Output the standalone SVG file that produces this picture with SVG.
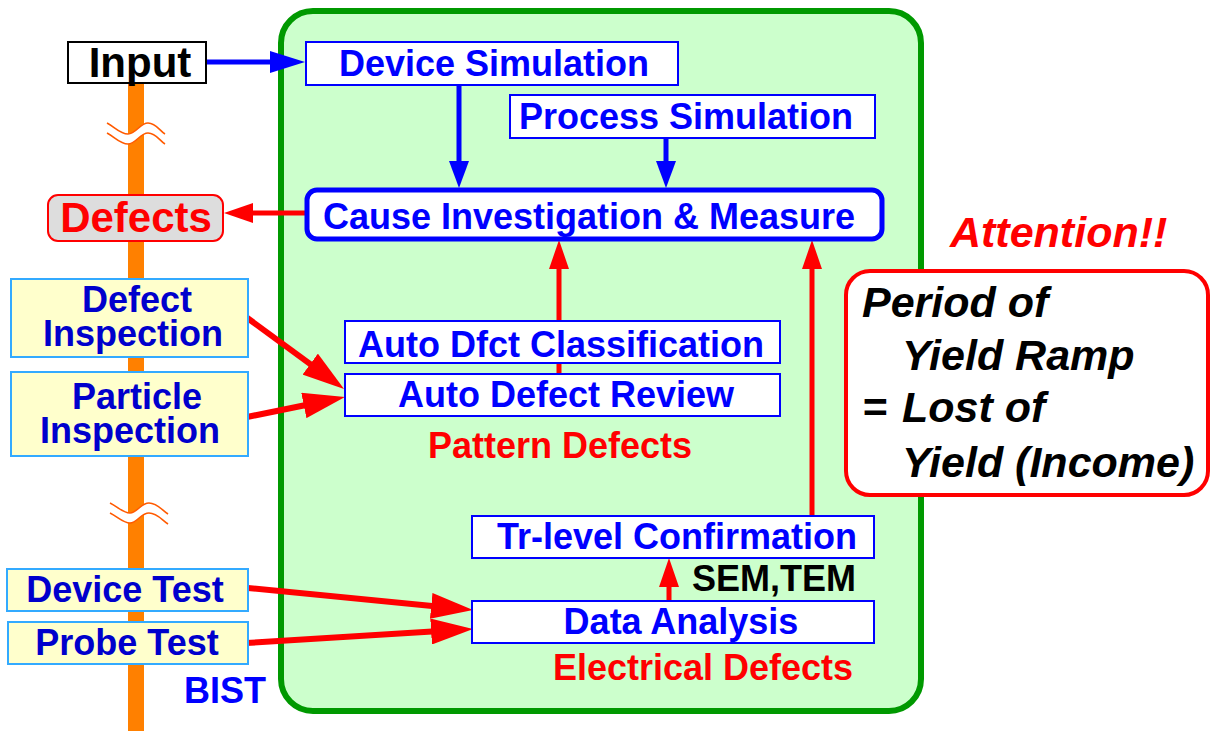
<svg xmlns="http://www.w3.org/2000/svg" width="1211" height="731" viewBox="0 0 1211 731">
  <style>
    text { font-family: "Liberation Sans", Arial, Helvetica, sans-serif; font-weight: bold; font-size: 36px; }
    .mid { text-anchor: middle; }
    .big { font-size: 42px; }
    .blue { fill: #0000ff; }
    .dblue { fill: #0000cc; }
    .red { fill: #ff0000; }
    .black { fill: #000000; }
    .box { fill: #ffffff; stroke: #0000ff; stroke-width: 2; }
    .tool { fill: #ffffcc; stroke: #33aaff; stroke-width: 2; }
    .bl { stroke: #0000ff; stroke-width: 5; fill: none; }
    .rl { stroke: #ff0000; stroke-width: 5; fill: none; }
    .rlw { stroke: #ff0000; stroke-width: 6; fill: none; }
    .brk { fill: none; stroke: #ff5a00; stroke-width: 1.6; }
    .note { font-size: 43px; font-style: italic; }
  </style>
  <defs>
    <marker id="headBlueL" markerUnits="userSpaceOnUse" markerWidth="36" markerHeight="22" refX="1" refY="11" orient="auto">
      <path d="M0,0 L35,11 L0,22 z" fill="#0000ff"/>
    </marker>
    <marker id="headBlue" markerUnits="userSpaceOnUse" markerWidth="28" markerHeight="20" refX="1" refY="10" orient="auto">
      <path d="M0,0 L27,10 L0,20 z" fill="#0000ff"/>
    </marker>
    <marker id="headRed" markerUnits="userSpaceOnUse" markerWidth="30" markerHeight="20" refX="1" refY="10" orient="auto">
      <path d="M0,0 L29,10 L0,20 z" fill="#ff0000"/>
    </marker>
    <marker id="headRedL" markerUnits="userSpaceOnUse" markerWidth="43" markerHeight="26" refX="1" refY="13" orient="auto">
      <path d="M0,0 L42,13 L0,26 z" fill="#ff0000"/>
    </marker>
  </defs>

  <!-- time axis with break marks -->
  <g id="timeline">
    <rect x="128" y="82" width="16" height="649" fill="#ff8000"/>
    <path d="M107,123 C115,127 120,134 128,134 C136,134 140,123 148,123 C156,123 160,131 165,134 L165,144 C160,141 156,133 148,133 C140,133 136,144 128,144 C120,144 115,137 107,133 z" fill="#ffffff"/>
    <path class="brk" d="M107,123 C115,127 120,134 128,134 C136,134 140,123 148,123 C156,123 160,131 165,134"/>
    <path class="brk" d="M107,133 C115,137 120,144 128,144 C136,144 140,133 148,133 C156,133 160,141 165,144"/>
    <path d="M110,503 C118,507 123,513 130,513 C137,513 141,503 149,503 C157,503 162,510 168,514 L168,524 C162,520 157,513 149,513 C141,513 137,523 130,523 C123,523 118,517 110,513 z" fill="#ffffff"/>
    <path class="brk" d="M110,503 C118,507 123,513 130,513 C137,513 141,503 149,503 C157,503 162,510 168,514"/>
    <path class="brk" d="M110,513 C118,517 123,523 130,523 C137,523 141,513 149,513 C157,513 162,520 168,524"/>
  </g>

  <!-- analysis area -->
  <g id="analysis-area">
    <rect x="281" y="11" width="640" height="700" rx="32" fill="#ccffcc" stroke="#009900" stroke-width="6"/>
  </g>

  <!-- connectors -->
  <g id="connectors">
    <line class="bl" x1="206" y1="62" x2="271" y2="62" stroke-width="6" marker-end="url(#headBlueL)"/>
    <line class="bl" x1="459" y1="85" x2="459" y2="162" marker-end="url(#headBlue)"/>
    <line class="bl" x1="666" y1="138" x2="666" y2="162" marker-end="url(#headBlue)"/>
    <line class="rl" x1="307" y1="213" x2="252" y2="213" marker-end="url(#headRed)"/>
    <line class="rl" x1="559" y1="376" x2="559" y2="268" marker-end="url(#headRed)"/>
    <line class="rl" x1="812" y1="517" x2="812" y2="268" marker-end="url(#headRed)"/>
    <line class="rl" x1="669" y1="601" x2="669" y2="586" marker-end="url(#headRed)"/>
    <line class="rlw" x1="246" y1="317" x2="311" y2="364.7" marker-end="url(#headRedL)"/>
    <line class="rlw" x1="247" y1="417" x2="304.8" y2="405.2" marker-end="url(#headRedL)"/>
    <line class="rlw" x1="248" y1="588" x2="432.2" y2="606" marker-end="url(#headRedL)"/>
    <line class="rlw" x1="246" y1="643" x2="432.1" y2="631.5" marker-end="url(#headRedL)"/>
  </g>

  <g id="input">
    <rect x="68" y="42" width="138" height="41" fill="#ffffff" stroke="#000000" stroke-width="2"/>
    <text class="mid black big" x="140" y="77">Input</text>
  </g>

  <g id="defects">
    <rect x="48" y="195" width="175" height="46" rx="10" fill="#dddddd" stroke="#ff0000" stroke-width="2"/>
    <text class="mid red big" x="136" y="232">Defects</text>
  </g>

  <g id="device-simulation">
    <rect class="box" x="306" y="42" width="372" height="43"/>
    <text class="mid blue" x="494" y="76">Device Simulation</text>
  </g>

  <g id="process-simulation">
    <rect class="box" x="510" y="95" width="365" height="43"/>
    <text class="mid blue" x="686" y="129">Process Simulation</text>
  </g>

  <g id="cause-investigation">
    <rect x="307" y="190" width="575" height="49" rx="10" fill="#ffffff" stroke="#0000ff" stroke-width="5"/>
    <text class="mid blue" x="589" y="229">Cause Investigation &amp; Measure</text>
  </g>

  <g id="auto-classification">
    <rect class="box" x="345" y="321" width="435" height="42"/>
    <text class="mid blue" x="561" y="357">Auto Dfct Classification</text>
  </g>

  <g id="auto-review">
    <rect class="box" x="345" y="374" width="435" height="42"/>
    <text class="mid blue" x="566" y="407">Auto Defect Review</text>
  </g>

  <g id="pattern-defects">
    <text class="mid red" x="560" y="458">Pattern Defects</text>
  </g>

  <g id="tr-level">
    <rect class="box" x="472" y="516" width="402" height="42"/>
    <text class="mid blue" x="677" y="549">Tr-level Confirmation</text>
  </g>

  <g id="sem-tem">
    <text class="black" x="692" y="591">SEM,TEM</text>
  </g>

  <g id="data-analysis">
    <rect class="box" x="472" y="601" width="402" height="42"/>
    <text class="mid blue" x="681" y="634">Data Analysis</text>
  </g>

  <g id="electrical-defects">
    <text class="mid red" x="703" y="680">Electrical Defects</text>
  </g>

  <g id="defect-inspection">
    <rect class="tool" x="11" y="279" width="237" height="78"/>
    <text class="mid dblue" x="137" y="312">Defect<tspan x="133" y="346">Inspection</tspan></text>
  </g>

  <g id="particle-inspection">
    <rect class="tool" x="11" y="372" width="237" height="84"/>
    <text class="mid dblue" x="137" y="409">Particle<tspan x="130" y="443">Inspection</tspan></text>
  </g>

  <g id="device-test">
    <rect class="tool" x="7" y="569" width="241" height="42"/>
    <text class="mid dblue" x="125" y="602">Device Test</text>
  </g>

  <g id="probe-test">
    <rect class="tool" x="8" y="622" width="240" height="42"/>
    <text class="mid dblue" x="127" y="655">Probe Test</text>
  </g>

  <g id="bist">
    <text class="blue" x="184" y="703">BIST</text>
  </g>

  <g id="attention">
    <text class="red note" x="950" y="247">Attention!!</text>
  </g>

  <g id="yield-note">
    <rect x="846" y="271" width="362" height="224" rx="24" fill="#ffffff" stroke="#ff0000" stroke-width="4"/>
    <text class="black note" x="862" y="317">Period of<tspan x="902" y="370">Yield Ramp</tspan><tspan x="862" y="422">=</tspan><tspan x="902" y="422">Lost of</tspan><tspan x="902" y="477">Yield (Income)</tspan></text>
  </g>
</svg>
